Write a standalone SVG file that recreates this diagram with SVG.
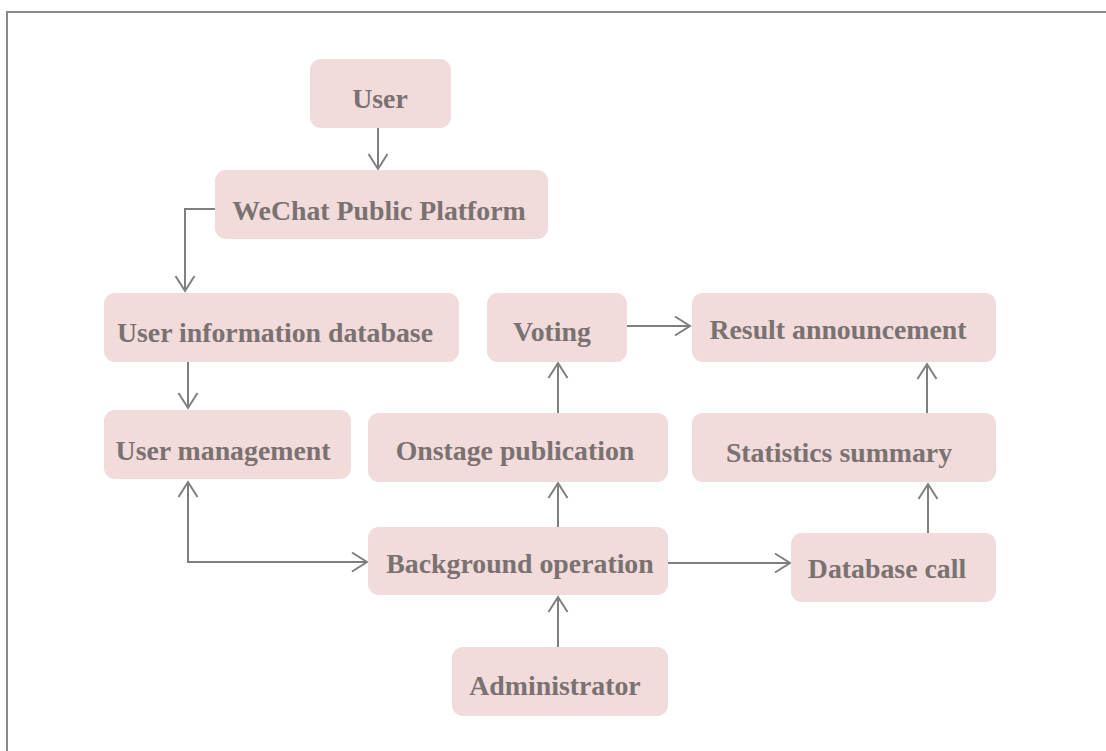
<svg xmlns="http://www.w3.org/2000/svg" width="1106" height="751" viewBox="0 0 1106 751">
  <style>
    .box { fill: #f1dbdb; }
    .label { font-family: "Liberation Serif", "Times New Roman", serif; font-weight: bold; font-size: 27.8px; fill: #7a7171; text-anchor: middle; }
    .wire { fill: none; stroke: #7f7f7f; stroke-width: 2; }
    .frame { fill: none; stroke: #8a8a8a; stroke-width: 2; }
  </style>
  <defs>
    <marker id="chev" markerUnits="userSpaceOnUse" markerWidth="22" markerHeight="24" viewBox="-18 -12 20 24" refX="0" refY="0" orient="auto-start-reverse">
      <path d="M-15,-9.5 L0,0 L-15,9.5" fill="none" stroke="#7f7f7f" stroke-width="2"/>
    </marker>
  </defs>

  <rect width="1106" height="751" fill="#ffffff"/>
  <!-- page frame (top and left edges) -->
  <path class="frame" d="M7,751 V12 H1106"/>

  <g id="connectors">
    <path class="wire" d="M378,128 V169" marker-end="url(#chev)"/>
    <path class="wire" d="M215,209 H185 V291" marker-end="url(#chev)"/>
    <path class="wire" d="M188,362 V408" marker-end="url(#chev)"/>
    <path class="wire" d="M188,482 V562 H367" marker-start="url(#chev)" marker-end="url(#chev)"/>
    <path class="wire" d="M558,527 V483" marker-end="url(#chev)"/>
    <path class="wire" d="M558,413 V363" marker-end="url(#chev)"/>
    <path class="wire" d="M558,647 V597" marker-end="url(#chev)"/>
    <path class="wire" d="M627,326 H690" marker-end="url(#chev)"/>
    <path class="wire" d="M668,563 H790" marker-end="url(#chev)"/>
    <path class="wire" d="M928,533 V484" marker-end="url(#chev)"/>
    <path class="wire" d="M927,413 V364" marker-end="url(#chev)"/>
  </g>

  <g id="user">
    <rect class="box" x="310" y="59" width="141" height="69" rx="11"/>
    <text class="label" x="380" y="108">User</text>
  </g>
  <g id="wechat-platform">
    <rect class="box" x="215" y="170" width="333" height="69" rx="11"/>
    <text class="label" x="379" y="220">WeChat Public Platform</text>
  </g>
  <g id="user-info-db">
    <rect class="box" x="104" y="293" width="355" height="69" rx="11"/>
    <text class="label" x="275" y="342">User information database</text>
  </g>
  <g id="voting">
    <rect class="box" x="487" y="293" width="140" height="69" rx="11"/>
    <text class="label" x="552" y="341">Voting</text>
  </g>
  <g id="result-announcement">
    <rect class="box" x="692" y="293" width="304" height="69" rx="11"/>
    <text class="label" x="838" y="339">Result announcement</text>
  </g>
  <g id="user-management">
    <rect class="box" x="104" y="410" width="247" height="69" rx="11"/>
    <text class="label" x="223" y="460">User management</text>
  </g>
  <g id="onstage-publication">
    <rect class="box" x="368" y="413" width="300" height="69" rx="11"/>
    <text class="label" x="515" y="460">Onstage publication</text>
  </g>
  <g id="statistics-summary">
    <rect class="box" x="692" y="413" width="304" height="69" rx="11"/>
    <text class="label" x="839" y="462">Statistics summary</text>
  </g>
  <g id="background-operation">
    <rect class="box" x="368" y="527" width="300" height="68" rx="11"/>
    <text class="label" x="520" y="573">Background operation</text>
  </g>
  <g id="database-call">
    <rect class="box" x="791" y="533" width="205" height="69" rx="11"/>
    <text class="label" x="887" y="578">Database call</text>
  </g>
  <g id="administrator">
    <rect class="box" x="452" y="647" width="216" height="69" rx="11"/>
    <text class="label" x="555" y="695">Administrator</text>
  </g>
</svg>
